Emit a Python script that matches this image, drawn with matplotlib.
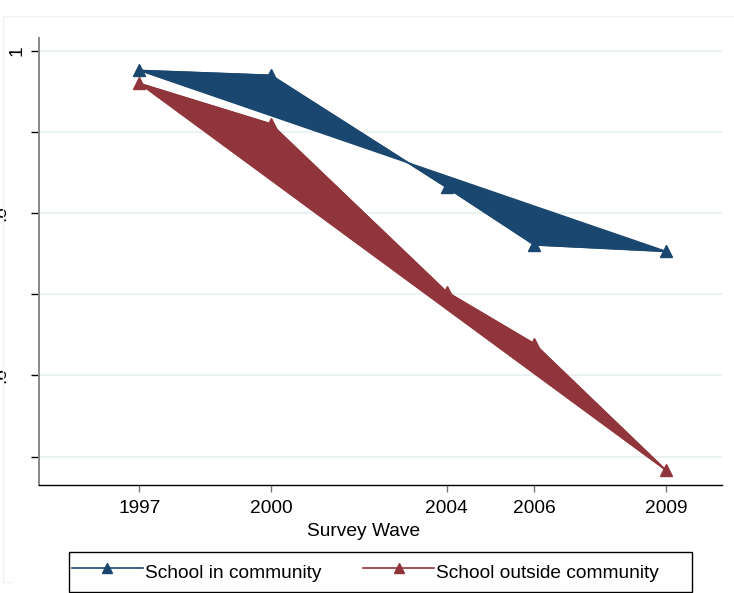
import matplotlib
matplotlib.use('Agg')
import matplotlib.pyplot as plt
from matplotlib.transforms import blended_transform_factory
from matplotlib.lines import Line2D
from matplotlib.patches import Rectangle

plt.rcParams['font.family'] = ['Liberation Sans', 'DejaVu Sans']

# survey waves and shares
years = [1997, 2000, 2004, 2006, 2009]
in_community = [0.976, 0.970, 0.832, 0.761, 0.753]
outside_community = [0.960, 0.910, 0.703, 0.639, 0.483]
ytick_vals = [0.5, 0.6, 0.7, 0.8, 0.9, 1.0]
ylabel_vals = [1.0, 0.8, 0.6]
ylabel_text = ['1', '.8', '.6']

navy = '#1a476f'
maroon = '#90353b'
W, H = 734, 593

fig = plt.figure(figsize=(7.34, 5.93), dpi=100)
ax = fig.add_axes([39 / W, 1 - 485 / H, (722 - 39) / W, (485 - 38) / H])

for vals, col, lab in [(in_community, navy, 'School in community'),
                       (outside_community, maroon, 'School outside community')]:
    ax.fill(years, vals, color=col, lw=1, zorder=3)
    ax.plot(years, vals, '-^', color=col, lw=1.2, ms=8.5, zorder=4, label=lab)

ax.set_xlim(1994.714, 2010.276)
ax.set_ylim(0.465, 1.016)
ax.set_xticks(years)
ax.set_xticklabels([str(y) for y in years], fontsize=13.8)
ax.set_yticks(ytick_vals)
ax.yaxis.grid(True, color='#eaf1f3', lw=1.4, zorder=0)
ax.tick_params(axis='y', length=5.8, width=1, color='black', labelleft=False)
ax.tick_params(axis='x', length=5, width=1, color='#777777', pad=6)

ax.spines['top'].set_visible(False)
ax.spines['right'].set_visible(False)
ax.spines['left'].set_color('#888888')
ax.spines['left'].set_linewidth(1.4)
ax.spines['bottom'].set_color('black')
ax.spines['bottom'].set_linewidth(1)

# y labels rotated and running off the left edge
tr = blended_transform_factory(fig.transFigure, ax.transData)
for v, t in zip(ylabel_vals, ylabel_text):
    xp = 17 if t == '1' else 1
    ax.text(xp / W, v, t, transform=tr, rotation=90, ha='center', va='center',
            fontsize=13.8, clip_on=False)

ax.set_xlabel('Survey Wave', fontsize=13.8)
ax.xaxis.set_label_coords((364 - 39) / (722 - 39), (485 - 531) / (485 - 38))
ax.xaxis.label.set_va('center')

fig.legend(loc='center left', bbox_to_anchor=(69 / W, 1 - 572 / H), ncol=2,
           fontsize=13.8, frameon=False, handlelength=3.7, handleheight=1.75,
           handletextpad=0.1, columnspacing=2.2, borderpad=0.15,
           borderaxespad=0, markerscale=0.85)
# legend box is wider than its entries
fig.add_artist(Rectangle((69 / W, 1 - 592 / H), (692 - 69) / W, 40 / H,
                         transform=fig.transFigure, fill=False,
                         edgecolor='black', lw=1))

# faint outer graph region frame
fc = '#eef3f4'
fig.add_artist(Line2D([3 / W, 3 / W], [1 - 16 / H, 1 - 582 / H], color=fc, lw=1))
fig.add_artist(Line2D([3 / W, 1], [1 - 16 / H, 1 - 16 / H], color=fc, lw=1))
fig.add_artist(Line2D([3 / W, 12 / W], [1 - 582 / H, 1 - 582 / H], color=fc, lw=1))

fig.savefig('out.png', dpi=100)
